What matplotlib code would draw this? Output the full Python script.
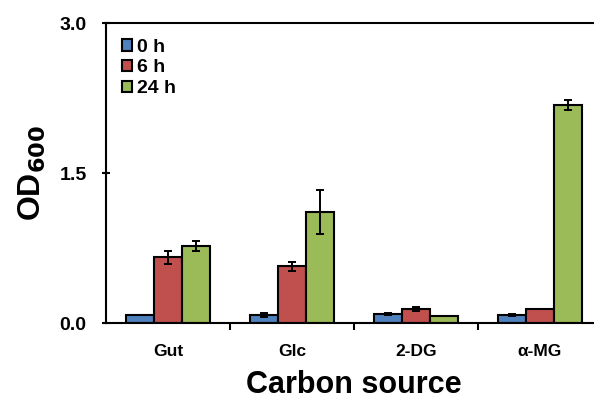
import matplotlib
matplotlib.use("Agg")
import matplotlib.pyplot as plt
import numpy as np

plt.rcParams["font.family"] = ["Liberation Sans", "DejaVu Sans"]
plt.rcParams["font.weight"] = "bold"
plt.rcParams["mathtext.default"] = "bf"

categories = ["Gut", "Glc", "2-DG", "\u03b1-MG"]
series = ["0 h", "6 h", "24 h"]
od_0h = [0.08, 0.08, 0.09, 0.08]
od_6h = [0.66, 0.57, 0.14, 0.14]
od_24h = [0.77, 1.11, 0.07, 2.18]
err_0h = [0.0, 0.02, 0.01, 0.01]
err_6h = [0.065, 0.045, 0.02, 0.0]
err_24h = [0.05, 0.22, 0.0, 0.05]
colors = ["#4F81BD", "#C0504D", "#9BBB59"]

fig = plt.figure(figsize=(5.94, 4.0), dpi=100)
ax = fig.add_axes([106 / 594, 77 / 400, 496 / 594, 300 / 400])

x = np.arange(len(categories))
w = 0.226
for i, (vals, errs) in enumerate(zip([od_0h, od_6h, od_24h], [err_0h, err_6h, err_24h])):
    ax.bar(x + (i - 1) * w, vals, w, color=colors[i], edgecolor="black",
           linewidth=1.5, label=series[i], zorder=2)
    ax.errorbar(x + (i - 1) * w, vals, yerr=errs, fmt="none", ecolor="black",
                elinewidth=1.4, capsize=3, capthick=1.4, zorder=3)

ax.set_xlim(-0.5, len(categories) - 0.5)
ax.set_ylim(0, 3.0)
ax.set_yticks([0, 1.5, 3.0])
ax.set_yticklabels(["0.0", "1.5", "3.0"])
ax.set_xticks(x)
ax.set_xticklabels(categories, fontsize=12.5, fontweight="bold")
ax.tick_params(axis="x", length=0, pad=15)
ax.set_xticks(np.arange(len(categories) - 1) + 0.5, minor=True)
ax.tick_params(axis="x", which="minor", length=5, width=1.5, direction="out")
ax.tick_params(axis="y", length=6, width=1.5, direction="inout", labelsize=14, pad=11)
for lbl in ax.get_yticklabels():
    lbl.set_fontweight("bold")
for s in ax.spines.values():
    s.set_linewidth(1.5)
ax.spines["right"].set_visible(False)

ax.set_xlabel("Carbon source", fontsize=22, fontweight="bold", labelpad=8)
ax.set_ylabel("OD$_{600}$", fontsize=23, fontweight="bold", labelpad=8)

leg = ax.legend(loc="upper left", frameon=False, handlelength=0.55,
                handleheight=0.55, handletextpad=0.25, labelspacing=0.2,
                borderaxespad=0.5, borderpad=0.3,
                prop={"weight": "bold", "size": 14})

fig.savefig("out.png", dpi=100)
